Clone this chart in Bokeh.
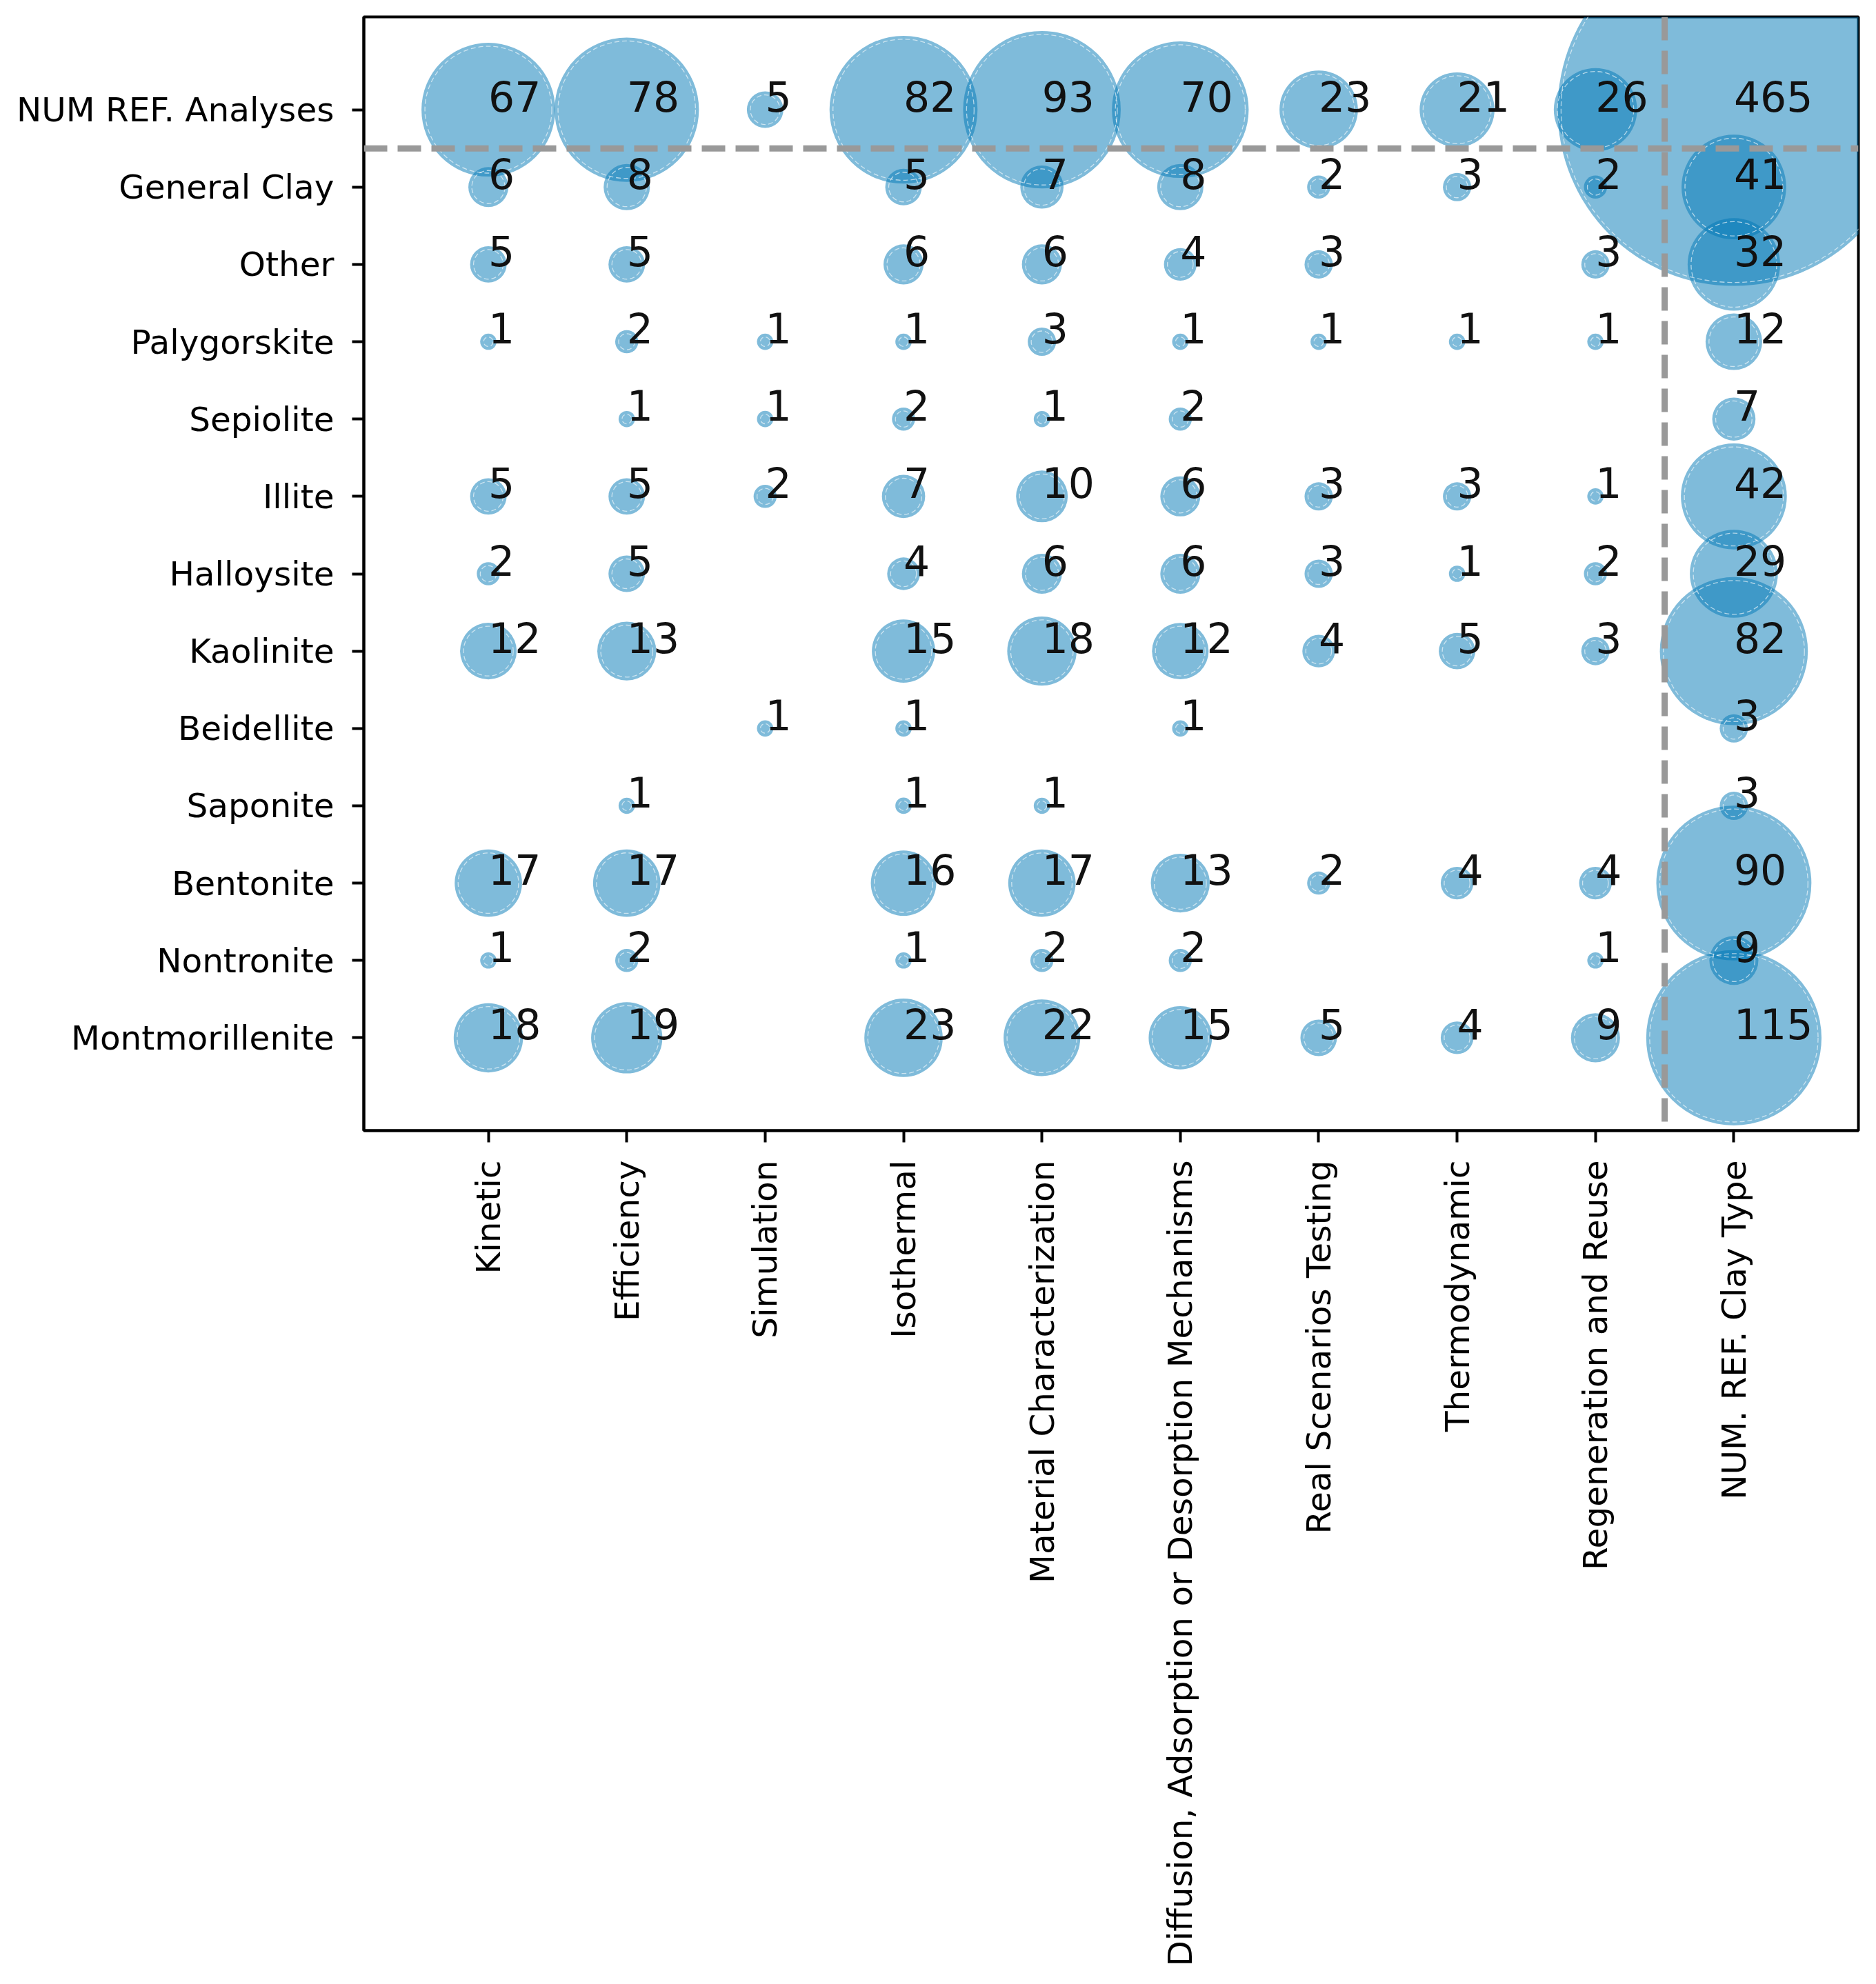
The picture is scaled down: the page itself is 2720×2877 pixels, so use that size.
import math
from bokeh.plotting import figure
from bokeh.models import Range1d, FixedTicker, Span, ColumnDataSource
from bokeh.core.properties import value
from bokeh.embed import file_html
from bokeh.resources import INLINE

columns = ["Kinetic", "Efficiency", "Simulation", "Isothermal",
           "Material Characterization",
           "Diffusion, Adsorption or Desorption Mechanisms",
           "Real Scenarios Testing", "Thermodynamic",
           "Regeneration and Reuse", "NUM. REF. Clay Type"]

rows = ["NUM REF. Analyses", "General Clay", "Other", "Palygorskite",
        "Sepiolite", "Illite", "Halloysite", "Kaolinite", "Beidellite",
        "Saponite", "Bentonite", "Nontronite", "Montmorillenite"]

num_ref_analyses = [67, 78, 5, 82, 93, 70, 23, 21, 26, 465]
general_clay     = [6, 8, 0, 5, 7, 8, 2, 3, 2, 41]
other            = [5, 5, 0, 6, 6, 4, 3, 0, 3, 32]
palygorskite     = [1, 2, 1, 1, 3, 1, 1, 1, 1, 12]
sepiolite        = [0, 1, 1, 2, 1, 2, 0, 0, 0, 7]
illite           = [5, 5, 2, 7, 10, 6, 3, 3, 1, 42]
halloysite       = [2, 5, 0, 4, 6, 6, 3, 1, 2, 29]
kaolinite        = [12, 13, 0, 15, 18, 12, 4, 5, 3, 82]
beidellite       = [0, 0, 1, 1, 0, 1, 0, 0, 0, 3]
saponite         = [0, 1, 0, 1, 1, 0, 0, 0, 0, 3]
bentonite        = [17, 17, 0, 16, 17, 13, 2, 4, 4, 90]
nontronite       = [1, 2, 0, 1, 2, 2, 0, 0, 1, 9]
montmorillenite  = [18, 19, 0, 23, 22, 15, 5, 4, 9, 115]

matrix = [num_ref_analyses, general_clay, other, palygorskite, sepiolite,
          illite, halloysite, kaolinite, beidellite, saponite, bentonite,
          nontronite, montmorillenite]

xs, ys, vals = [], [], []
for r, rowvals in enumerate(matrix):
    for c, v in enumerate(rowvals):
        if v > 0:
            xs.append(c)
            ys.append(r)
            vals.append(v)

k = 23.7  # diameter per sqrt(count), screen px
sizes = [k * math.sqrt(v) for v in vals]
inner = [max(s - 10, 4) for s in sizes]
src = ColumnDataSource(dict(x=xs, y=ys, v=[str(v) for v in vals],
                            size=sizes, inner=inner))

p = figure(frame_width=2167, frame_height=1615,
           min_border_left=527, min_border_right=10,
           min_border_top=24, min_border_bottom=1222,
           x_range=Range1d(-0.9, 9.9), y_range=Range1d(13.2, -1.2),
           output_backend="svg", toolbar_location=None,
           background_fill_color="white", border_fill_color="white")

p.xgrid.visible = False
p.ygrid.visible = False
p.outline_line_color = "black"
p.outline_line_width = 4
p.outline_line_alpha = 1.0

p.scatter("x", "y", size="size", source=src, fill_color="#0077b6",
          fill_alpha=0.5, line_color=None)
p.scatter("x", "y", size="inner", source=src, fill_color=None,
          line_color="white", line_alpha=0.6, line_width=1.3,
          line_dash="7 4")

p.add_layout(Span(location=0.5, dimension="width", line_color="#999999",
                  line_width=9, line_dash="34 15"))
p.add_layout(Span(location=8.5, dimension="height", line_color="#999999",
                  line_width=9, line_dash="34 15"))

p.text("x", "y", text="v", source=src, text_align="left",
       text_baseline="alphabetic", y_offset=-20,
       text_font=value("DejaVu Sans"),
       text_font_size="60px", text_color="#111111")

for ax in (p.xaxis[0], p.yaxis[0]):
    ax.axis_line_color = "black"
    ax.axis_line_width = 4
    ax.major_tick_line_color = "black"
    ax.major_tick_line_width = 4
    ax.major_tick_in = 0
    ax.major_tick_out = 17
    ax.minor_tick_line_color = None
    ax.major_label_text_font = "DejaVu Sans"
    ax.major_label_text_font_size = "48.5px"
    ax.major_label_text_color = "black"
    ax.major_label_standoff = 26

p.xaxis.ticker = FixedTicker(ticks=list(range(len(columns))))
p.xaxis.major_label_overrides = {i: name for i, name in enumerate(columns)}
p.xaxis.major_label_orientation = math.pi / 2

p.yaxis.ticker = FixedTicker(ticks=list(range(len(rows))))
p.yaxis.major_label_overrides = {i: name for i, name in enumerate(rows)}

open("out.html", "w").write(file_html(p, INLINE))
